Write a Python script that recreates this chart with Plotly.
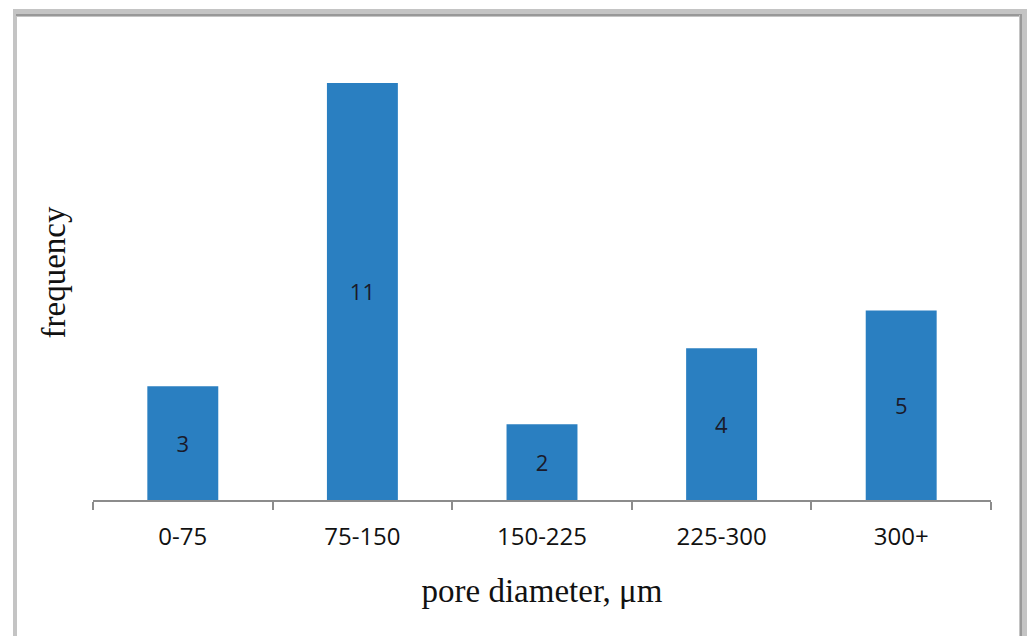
import plotly.graph_objects as go

categories = ["0-75", "75-150", "150-225", "225-300", "300+"]
frequency = [3, 11, 2, 4, 5]
labels = [str(v) for v in frequency]

W, H = 1027, 636
ML, MR, MT, MB = 93, 36, 45, 136
PW = W - ML - MR
PH = H - MT - MB

def px(x):
    return (x - ML) / PW

def py(y):
    return (H - MB - y) / PH

fig = go.Figure(go.Bar(
    x=categories, y=frequency, text=labels,
    textposition="inside", insidetextanchor="middle",
    textfont=dict(family="Open Sans", size=22, color="#1a1a2a"),
    marker=dict(color="#2a7fc1", line=dict(width=0)),
    constraintext="none",
))

shapes = [
    dict(type="rect", xref="paper", yref="paper", x0=px(13), x1=px(17), y0=py(640), y1=py(10),
         fillcolor="#c4c4c4", line=dict(width=0), layer="above"),
    dict(type="rect", xref="paper", yref="paper", x0=px(13), x1=px(1027), y0=py(17), y1=py(9),
         fillcolor="#c4c4c4", line=dict(width=0), layer="above"),
    dict(type="line", xref="paper", yref="paper", x0=px(16), x1=px(1022), y0=py(15), y1=py(15),
         line=dict(color="#8a8a8a", width=1.5), layer="above"),
    dict(type="rect", xref="paper", yref="paper", x0=px(1019), x1=px(1027), y0=py(640), y1=py(15),
         fillcolor="#c4c4c4", line=dict(width=0), layer="above"),
    dict(type="line", xref="paper", yref="paper", x0=px(1021), x1=px(1021), y0=py(640), y1=py(15),
         line=dict(color="#8a8a8a", width=1.5), layer="above"),
]

fig.update_layout(
    width=W, height=H,
    margin=dict(l=ML, r=MR, t=MT, b=MB),
    paper_bgcolor="white", plot_bgcolor="white",
    bargap=0.605,
    showlegend=False,
    shapes=shapes,
    xaxis=dict(
        showline=True, linecolor="#8c8c8c", linewidth=2,
        ticks="outside", tickson="boundaries", ticklen=8, tickwidth=2, tickcolor="#8c8c8c",
        tickfont=dict(family="Open Sans", size=24, color="#111111"),
        ticklabelstandoff=14,
        showgrid=False,
        title=dict(text="pore diameter, \u03bcm", standoff=28,
                   font=dict(family="Liberation Serif", size=33, color="#111111")),
    ),
    yaxis=dict(
        range=[0, 12], showline=False, showticklabels=False, ticks="",
        showgrid=False, zeroline=False,
        title=dict(text="frequency", standoff=16,
                   font=dict(family="Liberation Serif", size=33, color="#111111")),
    ),
)

fig.write_html("out.html", config={"displayModeBar": False},
               post_script="document.body.style.margin='0';document.body.style.overflow='hidden';")
